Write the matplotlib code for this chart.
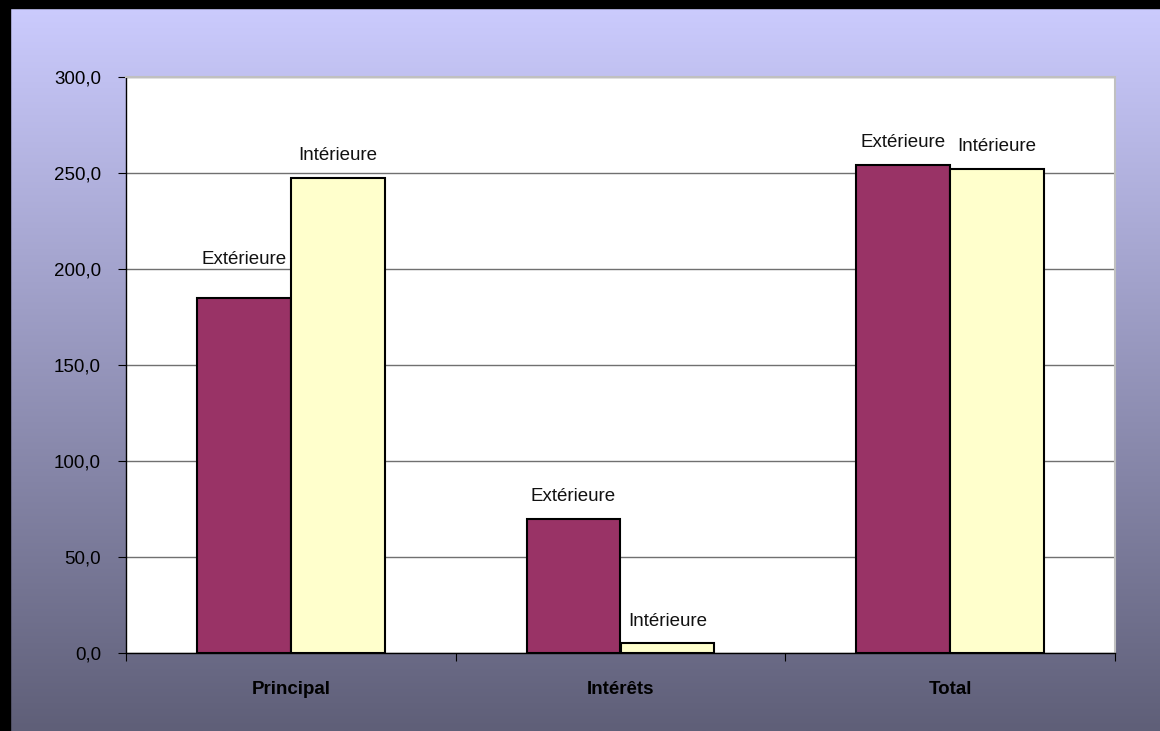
import numpy as np
import matplotlib
matplotlib.use("Agg")
import matplotlib.pyplot as plt

# Data
categories = ["Principal", "Intérêts", "Total"]
exterieure = [184.8, 69.8, 254.3]
interieure = [247.4, 5.2, 252.2]
series_names = ["Extérieure", "Intérieure"]

plt.rcParams["font.family"] = ["Liberation Sans", "DejaVu Sans"]

fig = plt.figure(figsize=(11.6, 7.31), dpi=100)

# Background gradient over whole figure
bg = fig.add_axes([0, 0, 1, 1], zorder=0)
top = np.array([204, 204, 255]) / 255
bottom = np.array([95, 95, 120]) / 255
t = np.linspace(0, 1, 256)[:, None]
grad = top * (1 - t) + bottom * t
bg.imshow(grad[:, None, :], aspect="auto", extent=[0, 1, 0, 1])
bg.set_xlim(0, 1)
bg.set_ylim(0, 1)
bg.axis("off")
# black frame on left and top
W, H = 1160, 731
bg.add_patch(plt.Rectangle((0, 0), 10 / W, 1, color="black", transform=bg.transAxes))
bg.add_patch(plt.Rectangle((0, 1 - 8 / H), 1, 8 / H, color="black", transform=bg.transAxes))

# Plot area
ax = fig.add_axes([126 / W, 1 - 653 / H, (1115 - 126) / W, (653 - 77) / H], zorder=1)
ax.set_facecolor("white")

x = np.arange(len(categories))
w = 0.285
b1 = ax.bar(x - w / 2, exterieure, w, color="#993366", edgecolor="black", linewidth=1.5, zorder=3)
b2 = ax.bar(x + w / 2, interieure, w, color="#FFFFCC", edgecolor="black", linewidth=1.5, zorder=3)

for bars, name in zip([b1, b2], series_names):
    for i, bar in enumerate(bars):
        off = 22
        if name == "Extérieure" and i == 0:
            off = 39
        ax.annotate(name, (bar.get_x() + bar.get_width() / 2, bar.get_height()),
                    xytext=(0, off * 0.72), textcoords="offset points",
                    ha="center", va="center", fontsize=13.5, color="#111111")

ax.set_xlim(-0.5, 2.5)
ax.set_ylim(0, 300)
ax.set_yticks(np.arange(0, 301, 50))
ax.set_yticklabels([f"{v:.1f}".replace(".", ",") for v in np.arange(0, 301, 50)], fontsize=13.5)
ax.yaxis.grid(True, color="#707070", linewidth=1, zorder=0)
ax.set_axisbelow(True)

ax.set_xticks([-0.5, 0.5, 1.5, 2.5])
ax.set_xticklabels([])
ax.set_xticks(x, minor=True)
ax.set_xticklabels(categories, minor=True, fontsize=13.5, fontweight="bold")
ax.tick_params(axis="x", which="minor", length=0, pad=20)
ax.tick_params(axis="x", which="major", length=6, direction="out", color="black")
ax.tick_params(axis="y", length=6, direction="out", color="black", pad=12)

for s in ["top", "right"]:
    ax.spines[s].set_color("#C0C0C0")
    ax.spines[s].set_linewidth(1.5)
for s in ["left", "bottom"]:
    ax.spines[s].set_color("black")
    ax.spines[s].set_linewidth(1)

fig.savefig("out.png", dpi=100)
